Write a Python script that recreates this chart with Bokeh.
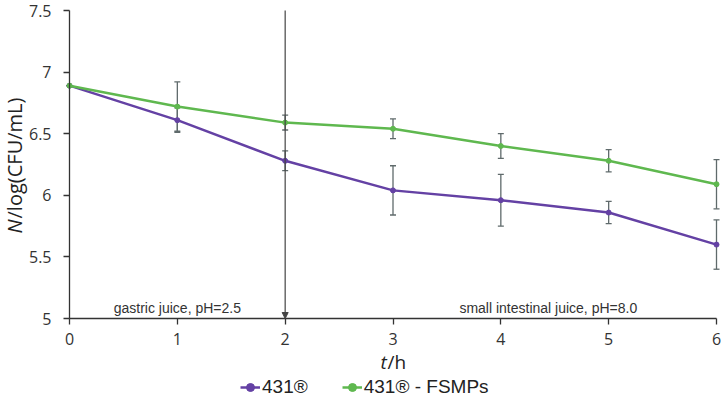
import math
from bokeh.plotting import figure
from bokeh.models import (ColumnDataSource, Whisker, TeeHead, Arrow, NormalHead,
                          Label, Legend, LegendItem, FixedTicker, Range1d)
from bokeh.embed import file_html
from bokeh.resources import INLINE

# ---- data ----
hours = [0, 1, 2, 3, 4, 5, 6]
s431 = [6.89, 6.61, 6.28, 6.04, 5.96, 5.86, 5.60]
s431_err = [0.0, 0.10, 0.08, 0.20, 0.21, 0.09, 0.20]
fsmp = [6.89, 6.72, 6.59, 6.54, 6.40, 6.28, 6.09]
fsmp_err = [0.0, 0.20, 0.06, 0.08, 0.10, 0.09, 0.20]
y_ticks = [5, 5.5, 6, 6.5, 7, 7.5]
y_tick_labels = ["5", "5.5", "6", "6.5", "7", "7.5"]
x_ticks = [0, 1, 2, 3, 4, 5, 6]
series_names = ["431®", "431® - FSMPs"]
phase_labels = ["gastric juice, pH=2.5", "small intestinal juice, pH=8.0"]
phase_x = [1.0, 4.44]
boundary_t = 2

PURPLE = "#6441a4"
GREEN = "#5fb84f"
ERR = "#5f6a6b"
AX = "#333333"

p = figure(width=723, height=402, output_backend="svg", toolbar_location=None,
           x_range=Range1d(-0.6399, 6.0649), y_range=Range1d(4.3182, 7.5812),
           min_border_left=0, min_border_right=0, min_border_top=0, min_border_bottom=0)
p.outline_line_color = None
p.grid.visible = False
p.background_fill_color = "white"

p.xaxis[0].fixed_location = 5
p.yaxis[0].fixed_location = 0
p.xaxis[0].bounds = (0, 6)
p.yaxis[0].bounds = (5, 7.5)

for ax in (p.xaxis[0], p.yaxis[0]):
    ax.axis_line_color = AX
    ax.axis_line_width = 1.3
    ax.major_tick_line_color = AX
    ax.major_tick_line_width = 1.3
    ax.major_tick_in = 0
    ax.major_tick_out = 6
    ax.minor_tick_line_color = None
    ax.major_label_text_font = "Open Sans"
    ax.major_label_text_font_size = "16px"
    ax.major_label_text_color = "#333333"

p.xaxis[0].ticker = FixedTicker(ticks=x_ticks)
p.xaxis[0].major_label_standoff = 8
p.yaxis[0].ticker = FixedTicker(ticks=y_ticks)
p.yaxis[0].major_label_overrides = {t: l for t, l in zip(y_ticks, y_tick_labels)}
p.yaxis[0].major_label_standoff = 12

src1 = ColumnDataSource(dict(x=hours, y=s431,
                             lo=[v - e for v, e in zip(s431, s431_err)],
                             hi=[v + e for v, e in zip(s431, s431_err)]))
src2 = ColumnDataSource(dict(x=hours, y=fsmp,
                             lo=[v - e for v, e in zip(fsmp, fsmp_err)],
                             hi=[v + e for v, e in zip(fsmp, fsmp_err)]))

# boundary arrow
p.add_layout(Arrow(x_start=boundary_t, y_start=7.5, x_end=boundary_t, y_end=5,
                   line_color="#444444", line_width=1.2,
                   end=NormalHead(size=6, line_color="#444444", fill_color="#444444")))

for src in (src1, src2):
    p.add_layout(Whisker(source=src, base="x", upper="hi", lower="lo",
                         line_color=ERR, line_width=1.3,
                         upper_head=TeeHead(size=6, line_color=ERR, line_width=1.3),
                         lower_head=TeeHead(size=6, line_color=ERR, line_width=1.3)))

l1 = p.line("x", "y", source=src1, line_color=PURPLE, line_width=2.5)
c1 = p.scatter("x", "y", source=src1, size=5, color=PURPLE)
l2 = p.line("x", "y", source=src2, line_color=GREEN, line_width=2.5)
c2 = p.scatter("x", "y", source=src2, size=5, color=GREEN)

# phase annotations
for tx, txt in zip(phase_x, phase_labels):
    p.add_layout(Label(x=tx, y=5.089, text=txt, text_align="center", text_baseline="middle",
                       text_font="Liberation Sans", text_font_size="14px", text_color="#333333"))

# y axis label (N italic)
p.add_layout(Label(x=-0.51, y=5.69, text="N", angle=math.pi / 2, text_align="left",
                   text_baseline="middle", text_font="Open Sans", text_font_style="italic",
                   text_font_size="20px", text_color="#222222"))
p.add_layout(Label(x=-0.51, y=5.812, text="/log(CFU/mL)", angle=math.pi / 2, text_align="left",
                   text_baseline="middle", text_font="Open Sans",
                   text_font_size="20px", text_color="#222222"))

# x axis label (t italic)
p.add_layout(Label(x=2.884, y=4.643, text="t", text_align="left", text_baseline="middle",
                   text_font="Open Sans", text_font_style="italic", text_font_size="19px",
                   text_color="#222222"))
p.add_layout(Label(x=2.949, y=4.643, text="/h", text_align="left", text_baseline="middle",
                   text_font="Open Sans", text_font_size="19px", text_color="#222222"))

legend = Legend(items=[LegendItem(label=series_names[0], renderers=[l1, c1]),
                       LegendItem(label=series_names[1], renderers=[l2, c2])],
                orientation="horizontal", location=(240, 4),
                padding=0, margin=0, spacing=34, glyph_width=20, glyph_height=20,
                label_standoff=2, border_line_color=None, background_fill_alpha=0,
                label_text_font="Liberation Sans", label_text_font_size="19px",
                label_text_color="#222222")
p.add_layout(legend, "center")

open("out.html", "w").write(file_html(p, INLINE))
